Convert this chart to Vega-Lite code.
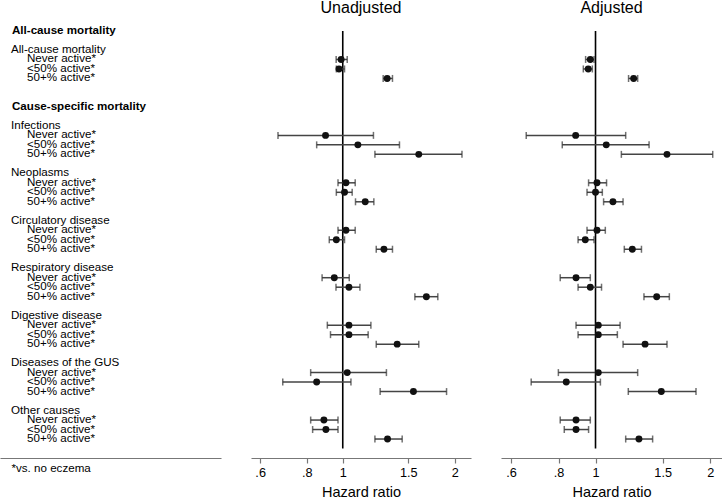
{
  "$schema": "https://vega.github.io/schema/vega-lite/v6.json",
  "padding": {"left": 0, "top": 0, "right": 0, "bottom": 0},
  "config": {
    "font": "Liberation Sans",
    "view": {"stroke": null},
    "concat": {"spacing": 30},
    "title": {"fontSize": 16, "fontWeight": "normal", "color": "#000", "offset": 14}
  },
  "datasets": {
    "est": [
      {"panel": "Unadjusted", "row": 3, "hr": 0.99, "lo": 0.96, "hi": 1.028},
      {"panel": "Unadjusted", "row": 4, "hr": 0.977, "lo": 0.961, "hi": 1.011},
      {"panel": "Unadjusted", "row": 5, "hr": 1.316, "lo": 1.284, "hi": 1.36},
      {"panel": "Unadjusted", "row": 11, "hr": 0.899, "lo": 0.67, "hi": 1.209},
      {"panel": "Unadjusted", "row": 12, "hr": 1.098, "lo": 0.851, "hi": 1.42},
      {"panel": "Unadjusted", "row": 13, "hr": 1.6, "lo": 1.22, "hi": 2.09},
      {"panel": "Unadjusted", "row": 16, "hr": 1.02, "lo": 0.971, "hi": 1.08},
      {"panel": "Unadjusted", "row": 17, "hr": 1.011, "lo": 0.961, "hi": 1.06},
      {"panel": "Unadjusted", "row": 18, "hr": 1.149, "lo": 1.082, "hi": 1.212},
      {"panel": "Unadjusted", "row": 21, "hr": 1.02, "lo": 0.971, "hi": 1.08},
      {"panel": "Unadjusted", "row": 22, "hr": 0.961, "lo": 0.92, "hi": 1.011},
      {"panel": "Unadjusted", "row": 23, "hr": 1.29, "lo": 1.23, "hi": 1.36},
      {"panel": "Unadjusted", "row": 26, "hr": 0.949, "lo": 0.88, "hi": 1.041},
      {"panel": "Unadjusted", "row": 27, "hr": 1.039, "lo": 0.959, "hi": 1.112},
      {"panel": "Unadjusted", "row": 28, "hr": 1.677, "lo": 1.562, "hi": 1.8},
      {"panel": "Unadjusted", "row": 31, "hr": 1.039, "lo": 0.909, "hi": 1.19},
      {"panel": "Unadjusted", "row": 32, "hr": 1.039, "lo": 0.927, "hi": 1.17},
      {"panel": "Unadjusted", "row": 33, "hr": 1.4, "lo": 1.23, "hi": 1.6},
      {"panel": "Unadjusted", "row": 36, "hr": 1.028, "lo": 0.82, "hi": 1.31},
      {"panel": "Unadjusted", "row": 37, "hr": 0.851, "lo": 0.69, "hi": 1.052},
      {"panel": "Unadjusted", "row": 38, "hr": 1.548, "lo": 1.26, "hi": 1.9},
      {"panel": "Unadjusted", "row": 41, "hr": 0.89, "lo": 0.82, "hi": 0.971},
      {"panel": "Unadjusted", "row": 42, "hr": 0.901, "lo": 0.83, "hi": 0.971},
      {"panel": "Unadjusted", "row": 43, "hr": 1.319, "lo": 1.22, "hi": 1.444},
      {"panel": "Adjusted", "row": 3, "hr": 0.969, "lo": 0.942, "hi": 0.991},
      {"panel": "Adjusted", "row": 4, "hr": 0.957, "lo": 0.929, "hi": 0.981},
      {"panel": "Adjusted", "row": 5, "hr": 1.259, "lo": 1.221, "hi": 1.29},
      {"panel": "Adjusted", "row": 11, "hr": 0.887, "lo": 0.658, "hi": 1.2},
      {"panel": "Adjusted", "row": 12, "hr": 1.067, "lo": 0.818, "hi": 1.382},
      {"panel": "Adjusted", "row": 13, "hr": 1.54, "lo": 1.169, "hi": 2.03},
      {"panel": "Adjusted", "row": 16, "hr": 1.009, "lo": 0.959, "hi": 1.069},
      {"panel": "Adjusted", "row": 17, "hr": 1.0, "lo": 0.95, "hi": 1.042},
      {"panel": "Adjusted", "row": 18, "hr": 1.111, "lo": 1.05, "hi": 1.181},
      {"panel": "Adjusted", "row": 21, "hr": 1.009, "lo": 0.95, "hi": 1.061},
      {"panel": "Adjusted", "row": 22, "hr": 0.94, "lo": 0.9, "hi": 0.991},
      {"panel": "Adjusted", "row": 23, "hr": 1.249, "lo": 1.19, "hi": 1.32},
      {"panel": "Adjusted", "row": 26, "hr": 0.889, "lo": 0.808, "hi": 0.969},
      {"panel": "Adjusted", "row": 27, "hr": 0.969, "lo": 0.9, "hi": 1.037},
      {"panel": "Adjusted", "row": 28, "hr": 1.447, "lo": 1.34, "hi": 1.562},
      {"panel": "Adjusted", "row": 31, "hr": 1.017, "lo": 0.889, "hi": 1.16},
      {"panel": "Adjusted", "row": 32, "hr": 1.017, "lo": 0.9, "hi": 1.141},
      {"panel": "Adjusted", "row": 33, "hr": 1.349, "lo": 1.181, "hi": 1.54},
      {"panel": "Adjusted", "row": 36, "hr": 1.017, "lo": 0.799, "hi": 1.29},
      {"panel": "Adjusted", "row": 37, "hr": 0.838, "lo": 0.678, "hi": 1.03},
      {"panel": "Adjusted", "row": 38, "hr": 1.488, "lo": 1.219, "hi": 1.835},
      {"panel": "Adjusted", "row": 41, "hr": 0.889, "lo": 0.808, "hi": 0.969},
      {"panel": "Adjusted", "row": 42, "hr": 0.889, "lo": 0.828, "hi": 0.959},
      {"panel": "Adjusted", "row": 43, "hr": 1.3, "lo": 1.2, "hi": 1.412}
    ],
    "labels": [
      {"row": 0, "label": "All-cause mortality", "level": 0, "bold": true},
      {"row": 2, "label": "All-cause mortality", "level": 0, "bold": false},
      {"row": 3, "label": "Never active*", "level": 1, "bold": false},
      {"row": 4, "label": "<50% active*", "level": 1, "bold": false},
      {"row": 5, "label": "50+% active*", "level": 1, "bold": false},
      {"row": 8, "label": "Cause-specific mortality", "level": 0, "bold": true},
      {"row": 10, "label": "Infections", "level": 0, "bold": false},
      {"row": 11, "label": "Never active*", "level": 1, "bold": false},
      {"row": 12, "label": "<50% active*", "level": 1, "bold": false},
      {"row": 13, "label": "50+% active*", "level": 1, "bold": false},
      {"row": 15, "label": "Neoplasms", "level": 0, "bold": false},
      {"row": 16, "label": "Never active*", "level": 1, "bold": false},
      {"row": 17, "label": "<50% active*", "level": 1, "bold": false},
      {"row": 18, "label": "50+% active*", "level": 1, "bold": false},
      {"row": 20, "label": "Circulatory disease", "level": 0, "bold": false},
      {"row": 21, "label": "Never active*", "level": 1, "bold": false},
      {"row": 22, "label": "<50% active*", "level": 1, "bold": false},
      {"row": 23, "label": "50+% active*", "level": 1, "bold": false},
      {"row": 25, "label": "Respiratory disease", "level": 0, "bold": false},
      {"row": 26, "label": "Never active*", "level": 1, "bold": false},
      {"row": 27, "label": "<50% active*", "level": 1, "bold": false},
      {"row": 28, "label": "50+% active*", "level": 1, "bold": false},
      {"row": 30, "label": "Digestive disease", "level": 0, "bold": false},
      {"row": 31, "label": "Never active*", "level": 1, "bold": false},
      {"row": 32, "label": "<50% active*", "level": 1, "bold": false},
      {"row": 33, "label": "50+% active*", "level": 1, "bold": false},
      {"row": 35, "label": "Diseases of the GUS", "level": 0, "bold": false},
      {"row": 36, "label": "Never active*", "level": 1, "bold": false},
      {"row": 37, "label": "<50% active*", "level": 1, "bold": false},
      {"row": 38, "label": "50+% active*", "level": 1, "bold": false},
      {"row": 40, "label": "Other causes", "level": 0, "bold": false},
      {"row": 41, "label": "Never active*", "level": 1, "bold": false},
      {"row": 42, "label": "<50% active*", "level": 1, "bold": false},
      {"row": 43, "label": "50+% active*", "level": 1, "bold": false}
    ],
    "ref": [{"x": 1, "y0": 0, "y1": 44}]
  },
  "bounds": "flush",
  "hconcat": [
    {
      "width": 221,
      "height": 427,
      "data": {"name": "labels"},
      "layer": [
        {
          "transform": [{"filter": "datum.bold"}],
          "mark": {"type": "text", "align": "left", "baseline": "middle", "fontSize": 11.6, "fontWeight": "bold", "color": "#000", "dx": 1},
          "encoding": {
            "x": {"field": "level", "type": "quantitative", "scale": {"domain": [-0.6875, 13.125], "nice": false, "zero": false},
              "axis": {"labels": false, "ticks": false, "grid": false, "domainColor": "#777", "domainWidth": 1.2, "title": "*vs. no eczema", "titleFontSize": 11.6, "titleFontWeight": "normal", "titleColor": "#000", "titleAnchor": "start", "titleAlign": "left", "titleBaseline": "top", "titleX": 11, "titleY": 4}},
            "y": {"field": "row", "type": "quantitative", "scale": {"domain": [0, 45], "reverse": true, "nice": false, "zero": false}, "axis": null},
            "text": {"field": "label"}
          }
        },
        {
          "transform": [{"filter": "!datum.bold"}],
          "mark": {"type": "text", "align": "left", "baseline": "middle", "fontSize": 11.6, "color": "#000"},
          "encoding": {
            "x": {"field": "level", "type": "quantitative"},
            "y": {"field": "row", "type": "quantitative"},
            "text": {"field": "label"}
          }
        }
      ]
    },
    {
      "title": "Unadjusted",
      "width": 220,
      "height": 427,
      "layer": [
        {
          "data": {"name": "ref"},
          "mark": {"type": "rule", "color": "#000", "strokeWidth": 1.6},
          "encoding": {
            "x": {"field": "x", "type": "quantitative"},
            "y": {"field": "y0", "type": "quantitative"},
            "y2": {"field": "y1"}
          }
        },
        {
          "data": {"name": "est"},
          "transform": [{"filter": "datum.panel === 'Unadjusted'"}],
          "layer": [
            {"mark": {"type": "rule", "color": "#444", "strokeWidth": 1.5},
             "encoding": {"x": {"field": "lo", "type": "quantitative"}, "x2": {"field": "hi"}, "y": {"field": "row", "type": "quantitative"}}},
            {"mark": {"type": "tick", "orient": "vertical", "color": "#333", "size": 7, "thickness": 1.5},
             "encoding": {"x": {"field": "lo", "type": "quantitative"}, "y": {"field": "row", "type": "quantitative"}}},
            {"mark": {"type": "tick", "orient": "vertical", "color": "#333", "size": 7, "thickness": 1.5},
             "encoding": {"x": {"field": "hi", "type": "quantitative"}, "y": {"field": "row", "type": "quantitative"}}},
            {"mark": {"type": "point", "filled": true, "color": "#111", "size": 48, "opacity": 1},
             "encoding": {"x": {"field": "hr", "type": "quantitative"}, "y": {"field": "row", "type": "quantitative"}}}
          ]
        }
      ],
      "encoding": {
        "x": {"type": "quantitative", "scale": {"type": "log", "domain": [0.567, 2.21], "nice": false},
          "axis": {"values": [0.6, 0.8, 1, 1.5, 2], "labelExpr": "datum.value < 1 ? '.' + substring(format(datum.value, '.1f'), 2) : format(datum.value, '~g')",
            "grid": false, "tickSize": 5, "tickColor": "#777", "domainColor": "#777", "domainWidth": 1.2, "tickWidth": 1.2,
            "labelFontSize": 12.7, "labelColor": "#000", "labelPadding": 3, "title": "Hazard ratio", "titleFontSize": 14.5, "titleFontWeight": "normal", "titleColor": "#000", "titlePadding": 7}},
        "y": {"type": "quantitative", "scale": {"domain": [0, 45], "reverse": true, "nice": false, "zero": false}, "axis": null}
      }
    },
    {
      "title": "Adjusted",
      "width": 221,
      "height": 427,
      "layer": [
        {
          "data": {"name": "ref"},
          "mark": {"type": "rule", "color": "#000", "strokeWidth": 1.6},
          "encoding": {
            "x": {"field": "x", "type": "quantitative"},
            "y": {"field": "y0", "type": "quantitative"},
            "y2": {"field": "y1"}
          }
        },
        {
          "data": {"name": "est"},
          "transform": [{"filter": "datum.panel === 'Adjusted'"}],
          "layer": [
            {"mark": {"type": "rule", "color": "#444", "strokeWidth": 1.5},
             "encoding": {"x": {"field": "lo", "type": "quantitative"}, "x2": {"field": "hi"}, "y": {"field": "row", "type": "quantitative"}}},
            {"mark": {"type": "tick", "orient": "vertical", "color": "#333", "size": 7, "thickness": 1.5},
             "encoding": {"x": {"field": "lo", "type": "quantitative"}, "y": {"field": "row", "type": "quantitative"}}},
            {"mark": {"type": "tick", "orient": "vertical", "color": "#333", "size": 7, "thickness": 1.5},
             "encoding": {"x": {"field": "hi", "type": "quantitative"}, "y": {"field": "row", "type": "quantitative"}}},
            {"mark": {"type": "point", "filled": true, "color": "#111", "size": 48, "opacity": 1},
             "encoding": {"x": {"field": "hr", "type": "quantitative"}, "y": {"field": "row", "type": "quantitative"}}}
          ]
        }
      ],
      "encoding": {
        "x": {"type": "quantitative", "scale": {"type": "log", "domain": [0.565, 2.147], "nice": false},
          "axis": {"values": [0.6, 0.8, 1, 1.5, 2], "labelExpr": "datum.value < 1 ? '.' + substring(format(datum.value, '.1f'), 2) : format(datum.value, '~g')",
            "grid": false, "tickSize": 5, "tickColor": "#777", "domainColor": "#777", "domainWidth": 1.2, "tickWidth": 1.2,
            "labelFontSize": 12.7, "labelColor": "#000", "labelPadding": 3, "title": "Hazard ratio", "titleFontSize": 14.5, "titleFontWeight": "normal", "titleColor": "#000", "titlePadding": 7}},
        "y": {"type": "quantitative", "scale": {"domain": [0, 45], "reverse": true, "nice": false, "zero": false}, "axis": null}
      }
    }
  ]
}
